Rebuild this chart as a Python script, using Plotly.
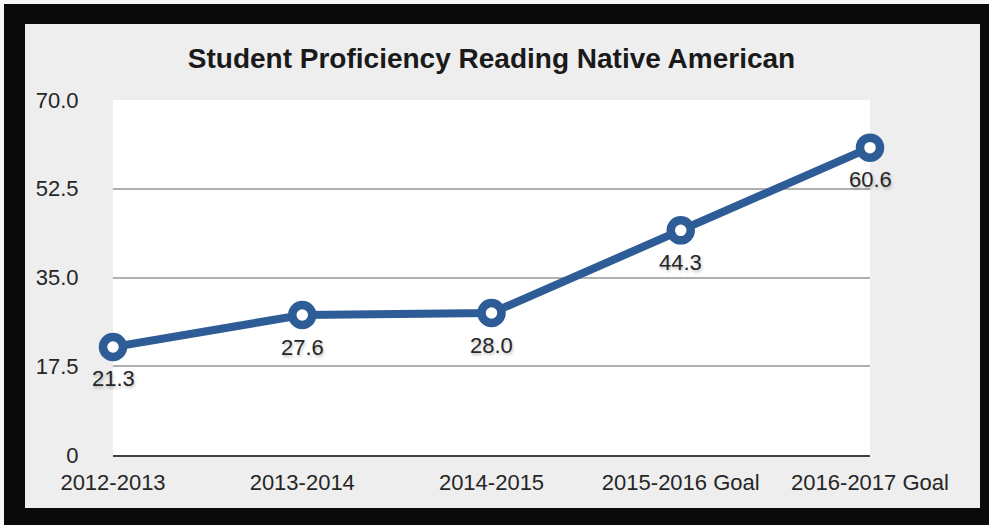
import plotly.graph_objects as go

categories = ["2012-2013", "2013-2014", "2014-2015", "2015-2016 Goal", "2016-2017 Goal"]
values = [21.3, 27.6, 28.0, 44.3, 60.6]
value_labels = ["21.3", "27.6", "28.0", "44.3", "60.6"]
y_ticks = [0, 17.5, 35, 52.5, 70]
y_tick_labels = ["0", "17.5", "35.0", "52.5", "70.0"]
title = "Student Proficiency Reading Native American"

W, H = 989, 525
L, R, T, B = 113, 989 - 870, 100, 525 - 455
PW, PH = W - L - R, H - T - B

def px_x(p):
    return (p - L) / PW

def px_y(p):
    return (H - B - p) / PH

FONT = "Liberation Sans, Arial, sans-serif"
BLUE = "#2e5c97"

fig = go.Figure()
fig.add_trace(go.Scatter(
    x=list(range(len(categories))), y=values,
    mode="lines+markers",
    line=dict(color=BLUE, width=8),
    marker=dict(size=20, color="white", line=dict(color=BLUE, width=8.5)),
    cliponaxis=False, hoverinfo="skip", showlegend=False,
))

annotations = []
for i, (v, t) in enumerate(zip(values, value_labels)):
    annotations.append(dict(x=i, y=v, xref="x", yref="y", text=t, showarrow=False,
                            yshift=-32, xanchor="center", yanchor="middle",
                            font=dict(family=FONT, size=22, color="#262626",
                                      shadow="1px 2px 3px rgba(0,0,0,0.25)")))

shapes = []
def rect(x0, y0, x1, y1, color):
    shapes.append(dict(type="rect", xref="paper", yref="paper",
                       x0=px_x(x0), x1=px_x(x1), y0=px_y(y1), y1=px_y(y0),
                       fillcolor=color, line=dict(width=0), layer="above"))

rect(0, 0, W, 4, "#f7f7f7")
rect(0, 0, 4, H, "#f7f7f7")
rect(4, 4, W, 24, "#0a0a0a")
rect(4, 4, 25, H, "#0a0a0a")
rect(980, 4, W, H, "#0a0a0a")
rect(4, 508, W, H, "#0a0a0a")

fig.update_layout(
    width=W, height=H,
    margin=dict(l=L, r=R, t=T, b=B, pad=0),
    paper_bgcolor="#eeeeee", plot_bgcolor="white",
    font=dict(family=FONT, color="#262626"),
    title=dict(text="<b>" + title + "</b>", x=0.5, xref="paper", xanchor="center",
               y=1 - 58 / H, yanchor="middle", font=dict(family=FONT, size=28, color="#1a1a1a")),
    shapes=shapes,
    annotations=annotations,
    xaxis=dict(range=[0, 4], tickvals=list(range(len(categories))), ticktext=categories,
               showgrid=False, zeroline=False, showline=True, linecolor="#404040", linewidth=2,
               ticks="outside", ticklen=7, tickcolor="rgba(0,0,0,0)",
               tickfont=dict(family=FONT, size=22, color="#262626"), fixedrange=True),
    yaxis=dict(range=[0, 70], tickvals=y_ticks, ticktext=y_tick_labels,
               showgrid=True, gridcolor="#b0b0b0", gridwidth=1.5, zeroline=False,
               ticks="outside", ticklen=29, tickcolor="rgba(0,0,0,0)",
               tickfont=dict(family=FONT, size=22, color="#262626"), fixedrange=True),
)

fig.write_html("out.html", config={"displayModeBar": False},
               post_script="document.body.style.margin='0';document.body.style.overflow='hidden';")
